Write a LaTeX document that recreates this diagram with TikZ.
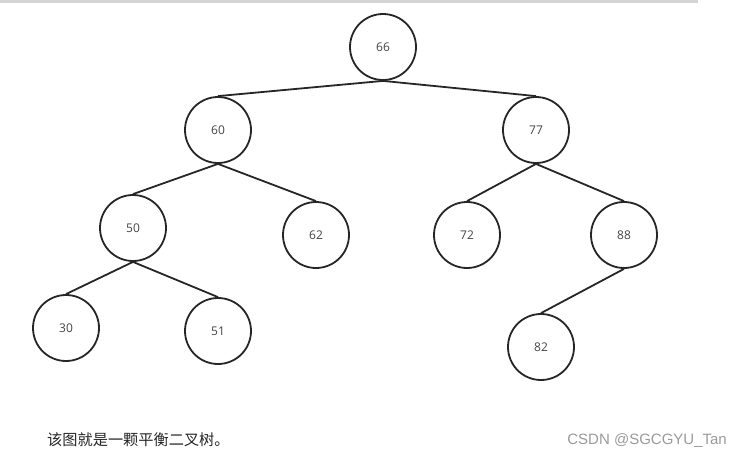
\documentclass[tikz,border=0pt]{standalone}
\usepackage{fontspec}
\setmainfont{Open Sans}
\newfontfamily\cjk{Noto Sans CJK SC}
\newfontfamily\wm{Liberation Sans}
\definecolor{txt}{HTML}{444444}
\definecolor{bar}{HTML}{D4D4D4}
\definecolor{wmc}{HTML}{9A9A9A}
\begin{document}
\begin{tikzpicture}[x=1pt,y=-1pt,
  tn/.style={circle,draw=black!85,line width=1.8pt,minimum size=66pt,inner sep=0pt,
    font=\fontsize{12}{14}\selectfont,text=txt},
  ed/.style={draw=black!85,line width=1.8pt}]
\useasboundingbox (0,0) rectangle (741,458);
\fill[bar] (0,0) rectangle (698,3);
\node[tn] (n66) at (383,47) {66};
\node[tn] (n60) at (218,130) {60};
\node[tn] (n77) at (536,130) {77};
\node[tn] (n50) at (133,228) {50};
\node[tn] (n62) at (316,235) {62};
\node[tn] (n72) at (467,235) {72};
\node[tn] (n88) at (624,235) {88};
\node[tn] (n30) at (66,328) {30};
\node[tn] (n51) at (218,331) {51};
\node[tn] (n82) at (541,347) {82};
\foreach \a/\b in {n66/n60,n66/n77,n60/n50,n60/n62,n77/n72,n77/n88,n50/n30,n50/n51,n88/n82}
  \draw[ed] (\a.south) -- (\b.north);
\node[anchor=west,inner sep=0pt,font=\cjk\fontsize{15.2}{17}\selectfont,text=black!85] (cap) at (47,440) {该图就是一颗平衡二叉树。};
\node[anchor=east,inner sep=0pt,font=\wm\fontsize{15}{17}\selectfont,text=wmc] (wm) at (727,441) {CSDN @SGCGYU\_Tan};
\end{tikzpicture}
\end{document}
